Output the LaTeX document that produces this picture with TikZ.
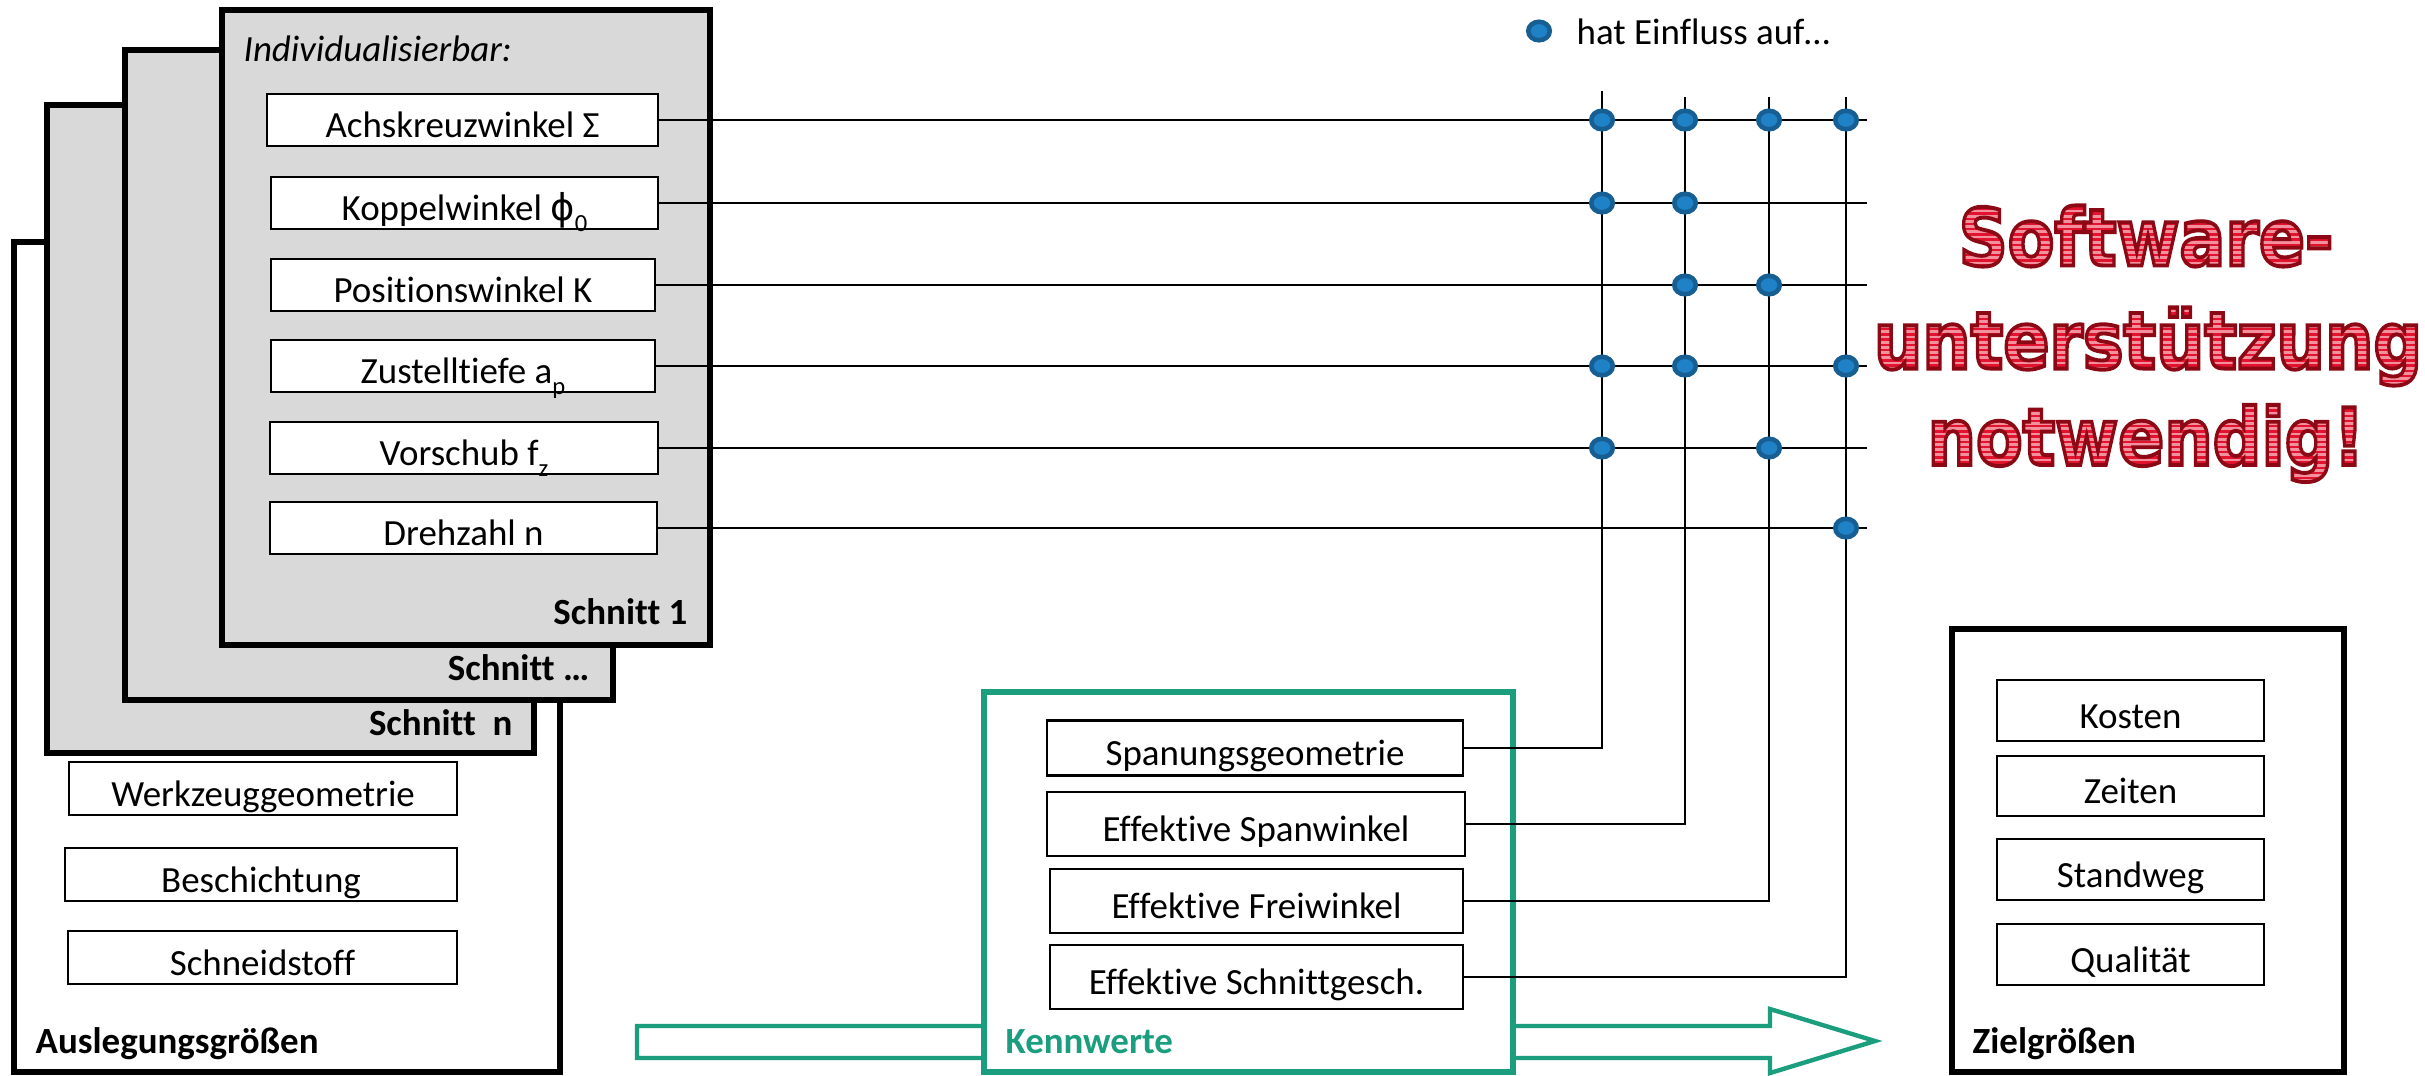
\documentclass[tikz,border=0pt]{standalone}
\usepackage{fontspec}
\usepackage{graphicx}
\setmainfont{Carlito}[Ligatures=NoCommon]
\newfontfamily\dejavu{DejaVu Sans}
\newfontfamily\wordfont{DejaVu Sans}
\usetikzlibrary{shapes.geometric}
\definecolor{tealc}{HTML}{1B9E7E}
\definecolor{grayfill}{HTML}{D9D9D9}
\definecolor{dotfill}{HTML}{1F82C6}
\definecolor{dotring}{HTML}{175F92}
\definecolor{wordred}{HTML}{E2132E}
\definecolor{stripe}{HTML}{F2909E}
\newcommand{\mysub}[1]{\raisebox{-0.6ex}{\fontsize{7}{8}\selectfont #1}}
\newcommand{\wordplain}[1]{\scalebox{0.86}[1]{#1}}
\newcommand{\wordstroke}[1]{\scalebox{0.86}[1]{\special{pdf:literal direct 1 Tr 1.1 w 0.55 0.03 0.08 RG}#1\special{pdf:literal direct 0 Tr}}}
\begin{document}
\begin{tikzpicture}[x=0.01cm,y=-0.01cm,
  font=\fontsize{10.5}{12.6}\selectfont,
  big/.style={draw=black,line width=1.7pt},
  ibox/.style={draw,line width=0.7pt,fill=white,inner sep=0pt,text height=1em,text depth=0pt,align=center},
  conn/.style={line width=0.6pt},
  dot/.style={ellipse,fill=dotfill,draw=dotring,line width=1.3pt,minimum width=0.215cm,minimum height=0.185cm,inner sep=0pt},
  lbl/.style={inner sep=0pt,font=\fontsize{10.5}{12.6}\selectfont\bfseries},
  wa/.style={inner sep=0pt,anchor=center,font=\wordfont\bfseries\fontsize{22.5}{27}\selectfont}
]
\useasboundingbox (0,0) rectangle (2425,1075);
\fill[white] (0,0) rectangle (2425,1075);

% stacked containers
\draw[big,fill=white] (14,242) rectangle (560,1072);
\draw[big,fill=grayfill] (47,105) rectangle (534,753);
\draw[big,fill=grayfill] (125,50) rectangle (613,700);
\draw[big,fill=grayfill] (222,10) rectangle (710,645);

\node[inner sep=0pt,anchor=base west,font=\fontsize{10.5}{12.6}\selectfont\itshape] (indiv) at (243,61) {Individualisierbar:};
\node[lbl,anchor=base east] (s1) at (688,624) {Schnitt 1};
\node[lbl,anchor=base east] (s2) at (590,680) {Schnitt …};
\node[lbl,anchor=base east] (s3) at (513,735) {Schnitt\ \ n};
\node[lbl,anchor=base west] (ausl) at (35,1053) {Auslegungsgrößen};

% Schnitt 1 parameters
\node[ibox,minimum width=3.91cm,minimum height=0.52cm] (ach) at (462.5,120) {Achskreuzwinkel Σ};
\node[ibox,minimum width=3.87cm,minimum height=0.52cm] (kop) at (464.5,203) {Koppelwinkel {\dejavu ϕ}\mysub{0}};
\node[ibox,minimum width=3.84cm,minimum height=0.52cm] (pos) at (463,285) {Positionswinkel K};
\node[ibox,minimum width=3.84cm,minimum height=0.52cm] (zus) at (463,366) {Zustelltiefe a\mysub{p}};
\node[ibox,minimum width=3.88cm,minimum height=0.52cm] (vor) at (464,448) {Vorschub f\mysub{z}};
\node[ibox,minimum width=3.87cm,minimum height=0.52cm] (dreh) at (463.5,528) {Drehzahl n};

% Auslegungsgroessen
\node[ibox,minimum width=3.88cm,minimum height=0.53cm] (werk) at (263,788.5) {Werkzeuggeometrie};
\node[ibox,minimum width=3.92cm,minimum height=0.53cm] (besch) at (261,874.5) {Beschichtung};
\node[ibox,minimum width=3.89cm,minimum height=0.53cm] (schneid) at (262.5,957.5) {Schneidstoff};

% big arrow behind Kennwerte
\draw[tealc,line width=1.25pt,fill=white] (637,1026) -- (1770,1026) -- (1770,1009) -- (1875,1041) -- (1770,1073) -- (1770,1058) -- (637,1058) -- cycle;

% Kennwerte
\draw[tealc,line width=1.7pt,fill=white] (984,692) rectangle (1513,1072);
\node[inner sep=0pt,anchor=base west,text=tealc,font=\fontsize{10.5}{12.6}\selectfont\bfseries] (kenn) at (1005,1053) {Kennwerte};
\node[ibox,minimum width=4.16cm,minimum height=0.55cm] (span) at (1255,748) {Spanungsgeometrie};
\node[ibox,minimum width=4.18cm,minimum height=0.64cm] (espw) at (1256,824) {Effektive Spanwinkel};
\node[ibox,minimum width=4.13cm,minimum height=0.64cm] (efw) at (1256.5,901) {Effektive Freiwinkel};
\node[ibox,minimum width=4.13cm,minimum height=0.64cm] (esg) at (1256.5,977) {Effektive Schnittgesch.};

% Zielgroessen
\draw[big,fill=white] (1952,629) rectangle (2344,1072);
\node[lbl,anchor=base west] (ziel) at (1972,1053) {Zielgrößen};
\node[ibox,minimum width=2.67cm,minimum height=0.61cm] (kost) at (2130.5,710.5) {Kosten};
\node[ibox,minimum width=2.67cm,minimum height=0.60cm] (zeit) at (2130.5,786) {Zeiten};
\node[ibox,minimum width=2.67cm,minimum height=0.61cm] (stand) at (2130.5,869.5) {Standweg};
\node[ibox,minimum width=2.67cm,minimum height=0.61cm] (qual) at (2130.5,954.5) {Qualität};

% grid
\coordinate (t1) at (1602,91);
\coordinate (t2) at (1685,97);
\coordinate (t3) at (1769,97);
\coordinate (t4) at (1846,97);
\coordinate (rend) at (1867,0);
\foreach \b in {ach,kop,pos,zus,vor,dreh}{
  \draw[conn] (\b.east) -- (\b.east -| rend);
}
\draw[conn] (span.east) -| (t1);
\draw[conn] (espw.east) -| (t2);
\draw[conn] (efw.east) -| (t3);
\draw[conn] (esg.east) -| (t4);

% influence dots
\node[dot] (d11) at (t1 |- ach.east) {};
\node[dot] (d12) at (t2 |- ach.east) {};
\node[dot] (d13) at (t3 |- ach.east) {};
\node[dot] (d14) at (t4 |- ach.east) {};
\node[dot] (d21) at (t1 |- kop.east) {};
\node[dot] (d22) at (t2 |- kop.east) {};
\node[dot] (d32) at (t2 |- pos.east) {};
\node[dot] (d33) at (t3 |- pos.east) {};
\node[dot] (d41) at (t1 |- zus.east) {};
\node[dot] (d42) at (t2 |- zus.east) {};
\node[dot] (d44) at (t4 |- zus.east) {};
\node[dot] (d51) at (t1 |- vor.east) {};
\node[dot] (d53) at (t3 |- vor.east) {};
\node[dot] (d64) at (t4 |- dreh.east) {};

% legend
\node[dot] (ldot) at (1539,31) {};
\node[inner sep=0pt,anchor=base west] (ltext) at (1576,44) {hat Einfluss auf…};

% word art: red fill, pink stripes, dark red outline
\foreach \nm/\xc/\yc/\txt in {wa/2146/236/Software-, wb/2148/346.5/unterstützung, wc/2146/443.5/notwendig!}{
  \node[wa,text=wordred] (\nm fill) at (\xc,\yc) {\wordplain{\txt}};
  \foreach \k in {-10,...,10}{
    \begin{scope}
      \clip (1800,\yc+\k*5.2) rectangle (2425,\yc+\k*5.2+1.8);
      \node[wa,text=stripe] (\nm st) at (\xc,\yc) {\wordplain{\txt}};
    \end{scope}
  }
  \node[wa,text=wordred] (\nm) at (\xc,\yc) {\wordstroke{\txt}};
}
\end{tikzpicture}
\end{document}
